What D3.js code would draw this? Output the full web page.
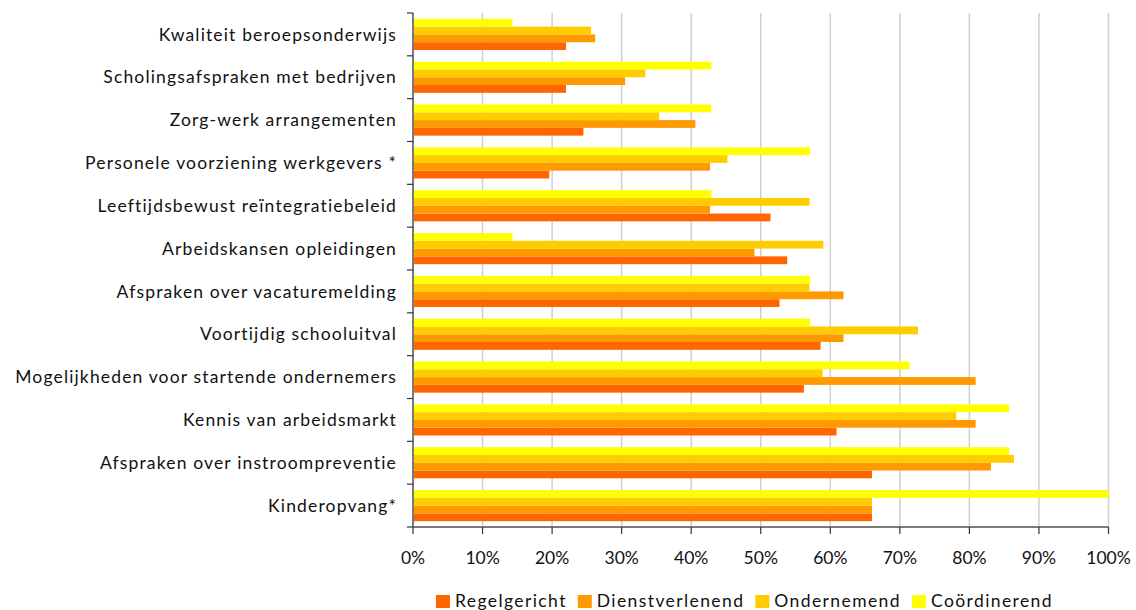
<!DOCTYPE html>
<html>
<head>
<meta charset="utf-8">
<script src="https://cdn.jsdelivr.net/npm/d3@7"></script>
<style>
  body { margin: 0; background: #fff; }
  svg { display: block; font-family: Lato, "Open Sans", sans-serif; }
</style>
</head>
<body>
<svg id="chart" width="1136" height="610"></svg>
<script>
const categories = [
  "Kwaliteit beroepsonderwijs",
  "Scholingsafspraken met bedrijven",
  "Zorg-werk arrangementen",
  "Personele voorziening werkgevers *",
  "Leeftijdsbewust reïntegratiebeleid",
  "Arbeidskansen opleidingen",
  "Afspraken over vacaturemelding",
  "Voortijdig schooluitval",
  "Mogelijkheden voor startende ondernemers",
  "Kennis van arbeidsmarkt",
  "Afspraken over instroompreventie",
  "Kinderopvang*"
];
const seriesNames = ["Regelgericht", "Dienstverlenend", "Ondernemend", "Coördinerend"];
const regelgericht    = [22.0, 22.0, 24.5, 19.6, 51.4, 53.8, 52.7, 58.6, 56.2, 60.9, 66.0, 66.0];
const dienstverlenend = [26.2, 30.5, 40.6, 42.7, 42.7, 49.1, 61.9, 61.9, 80.9, 80.9, 83.1, 66.0];
const ondernemend     = [25.6, 33.4, 35.4, 45.2, 57.0, 59.0, 57.0, 72.6, 58.9, 78.1, 86.4, 66.0];
const coordinerend    = [14.3, 42.9, 42.9, 57.1, 42.9, 14.3, 57.1, 57.1, 71.4, 85.7, 85.7, 100.0];
const xTicks = [0, 10, 20, 30, 40, 50, 60, 70, 80, 90, 100];
const colors = ["#FF6600", "#FF9900", "#FFCC00", "#FFFF00"];

(function () {
const seriesValues = [regelgericht, dienstverlenend, ondernemend, coordinerend];
const svg = d3.select("#chart");
const pLeft = 413, pRight = 1108.5, pTop = 13, pBottom = 527;

const x = d3.scaleLinear().domain([0, 100]).range([pLeft, pRight]);
const y = d3.scaleBand().domain(categories).range([pTop, pBottom]).paddingInner(0.273).paddingOuter(0.1365);
// top-to-bottom order within group: Coördinerend, Ondernemend, Dienstverlenend, Regelgericht
const sub = d3.scaleBand().domain([3, 2, 1, 0]).range([0, y.bandwidth()]);
const color = d3.scaleOrdinal().domain([0,1,2,3]).range(colors);

// gridlines
svg.append("g").selectAll("line").data(xTicks.slice(1)).join("line")
  .attr("x1", d => x(d)).attr("x2", d => x(d))
  .attr("y1", pTop).attr("y2", pBottom)
  .attr("stroke", "#cfcfcf").attr("stroke-width", 1.5);

// bars
const groups = svg.append("g").selectAll("g").data(categories).join("g")
  .attr("transform", c => `translate(0,${y(c)})`);
groups.selectAll("rect").data((c, i) => seriesValues.map((arr, s) => ({s, v: arr[i]}))).join("rect")
  .attr("x", x(0))
  .attr("y", d => sub(d.s))
  .attr("width", d => x(d.v) - x(0))
  .attr("height", sub.bandwidth())
  .attr("fill", d => color(d.s));

// y axis line + ticks at band boundaries
const step = y.step();
const boundaries = d3.range(categories.length + 1).map(i => pTop + i * step);
svg.append("line").attr("x1", pLeft).attr("x2", pLeft).attr("y1", pTop).attr("y2", pBottom)
  .attr("stroke", "#7a7a7a").attr("stroke-width", 2);
svg.append("g").selectAll("line").data(boundaries).join("line")
  .attr("x1", pLeft - 6).attr("x2", pLeft).attr("y1", d => d).attr("y2", d => d)
  .attr("stroke", "#333").attr("stroke-width", 1.2);

// category labels
svg.append("g").selectAll("text").data(categories).join("text")
  .attr("x", pLeft - 16)
  .attr("y", c => y(c) + y.bandwidth() / 2)
  .attr("dy", "0.35em")
  .attr("text-anchor", "end")
  .attr("font-size", 17.5)
  .attr("letter-spacing", "1.15px")
  .attr("fill", "#111")
  .text(c => c);

// x axis
svg.append("line").attr("x1", pLeft).attr("x2", pRight).attr("y1", pBottom).attr("y2", pBottom)
  .attr("stroke", "#7a7a7a").attr("stroke-width", 2);
svg.append("g").selectAll("line").data(xTicks).join("line")
  .attr("x1", d => x(d)).attr("x2", d => x(d)).attr("y1", pBottom).attr("y2", pBottom + 7)
  .attr("stroke", "#333").attr("stroke-width", 1.2);
svg.append("g").selectAll("text").data(xTicks).join("text")
  .attr("x", d => x(d))
  .attr("y", 558)
  .attr("dy", "0.35em")
  .attr("text-anchor", "middle")
  .attr("font-size", 17.5)
  .attr("fill", "#111")
  .text(d => d + "%");

// legend
const legend = svg.append("g");
let cx = 0;
seriesNames.forEach((name, i) => {
  const g = legend.append("g");
  g.append("rect").attr("x", cx).attr("y", -12).attr("width", 14).attr("height", 13).attr("fill", colors[i]);
  const t = g.append("text").attr("x", cx + 19).attr("y", 0).attr("font-size", 17.5)
    .attr("letter-spacing", "1.4px").attr("fill", "#111").text(name);
  cx += 19 + t.node().getComputedTextLength() + 11;
});
const totalW = cx - 11;
legend.attr("transform", `translate(${744.5 - totalW / 2},607)`);
})();
</script>
</body>
</html>
